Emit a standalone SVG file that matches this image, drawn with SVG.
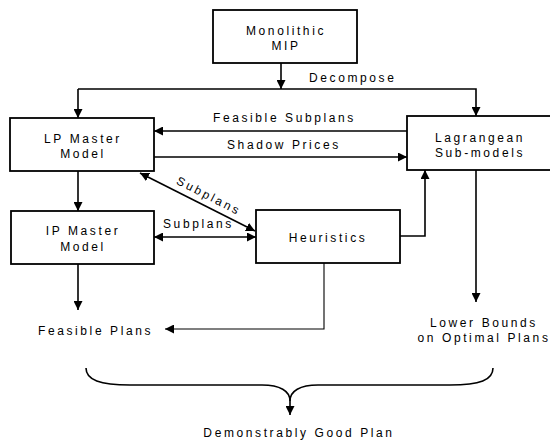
<svg xmlns="http://www.w3.org/2000/svg" width="550" height="444" viewBox="0 0 550 444">
<defs>
<marker id="ah" viewBox="0 0 10 10" refX="10" refY="5" markerUnits="userSpaceOnUse" markerWidth="9" markerHeight="9" orient="auto-start-reverse">
<path d="M0,0 L10,5 L0,10 z" fill="#000"/>
</marker>
<style>
.box{fill:#fff;stroke:#000;stroke-width:1.8}
.t{font-family:"Liberation Sans",Arial,sans-serif;font-size:12px;letter-spacing:2.6px;fill:#000}
.m{text-anchor:middle}
.c{fill:none;stroke:#000;stroke-width:1.6}
.thin{fill:none;stroke:#000;stroke-width:1.1}
.ar{marker-end:url(#ah)}
.as{marker-start:url(#ah)}
</style>
</defs>
<rect width="550" height="444" fill="#fff"/>
<g id="connectors">
<path class="c ar" d="M281,63 V89"/>
<path class="c ar" d="M78,89 H476 V116"/>
<path class="c ar" d="M78,89 V118"/>
<path class="c ar" d="M407,131 H154"/>
<path class="c ar" d="M154,157 H407"/>
<path class="c ar" d="M78,171 V211"/>
<path class="c ar as" d="M140,173 L255,231"/>
<path class="c ar as" d="M154,237 H256"/>
<path class="c ar" d="M400,236 H425 V170"/>
<path class="thin ar" d="M324,263 V329 H165"/>
<path class="c ar" d="M78,264 V310"/>
<path class="c ar" d="M476,170 V302"/>
<path class="c" d="M86,368 C86,380 100,385 130,385 L262,385 C280,385 290,391 290,401"/>
<path class="c ar" d="M493,368 C493,380 480,385 450,385 L318,385 C300,385 290,391 290,401 V415"/>
<text class="t" x="309" y="82">Decompose</text>
<text class="t" x="213" y="122">Feasible Subplans</text>
<text class="t" x="227" y="149">Shadow Prices</text>
<text class="t m" transform="translate(207,199.5) rotate(27)">Subplans</text>
<text class="t" x="163" y="228">Subplans</text>
</g>
<g id="monolithic">
<rect class="box" x="213" y="10" width="144" height="53"/>
<text class="t m" x="286" y="35">Monolithic</text>
<text class="t m" x="286" y="50">MIP</text>
</g>
<g id="lp-master">
<rect class="box" x="10" y="118" width="144" height="53"/>
<text class="t m" x="83" y="143">LP Master</text>
<text class="t m" x="83" y="158">Model</text>
</g>
<g id="lagrangean">
<rect class="box" x="407" y="116" width="150" height="54"/>
<text class="t m" x="480" y="142">Lagrangean</text>
<text class="t m" x="480" y="157">Sub-models</text>
</g>
<g id="ip-master">
<rect class="box" x="11" y="211" width="143" height="53"/>
<text class="t m" x="83" y="235">IP Master</text>
<text class="t m" x="83" y="251">Model</text>
</g>
<g id="heuristics">
<rect class="box" x="256" y="210" width="144" height="53"/>
<text class="t m" x="328" y="242">Heuristics</text>
</g>
<g id="feasible-plans">
<text class="t" x="38" y="335">Feasible Plans</text>
</g>
<g id="lower-bounds">
<text class="t m" x="484" y="327">Lower Bounds</text>
<text class="t m" x="484" y="342">on Optimal Plans</text>
</g>
<g id="good-plan">
<text class="t m" x="299" y="437">Demonstrably Good Plan</text>
</g>
</svg>
